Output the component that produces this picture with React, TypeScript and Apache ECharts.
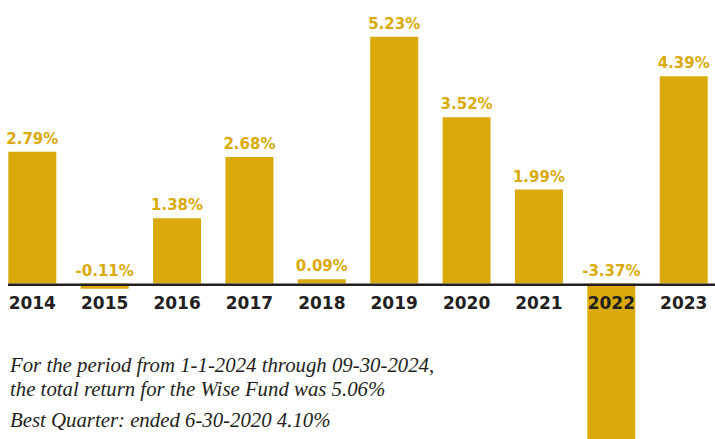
import React, { useEffect, useRef } from "react";
import * as echarts from "echarts";

const years = ["2014", "2015", "2016", "2017", "2018", "2019", "2020", "2021", "2022", "2023"];
const returns = [2.79, -0.11, 1.38, 2.68, 0.09, 5.23, 3.52, 1.99, -3.37, 4.39];
const noteLines = [
  "For the period from 1-1-2024 through 09-30-2024,",
  "the total return for the Wise Fund was 5.06%",
  "Best Quarter: ended 6-30-2020 4.10%",
];

const GOLD = "#D9AA0A";
const DARK = "#231F20";

export default function App() {
  const ref = useRef<HTMLDivElement>(null);
  useEffect(() => {
    if (!ref.current) return;
    const chart = echarts.init(ref.current, null, { renderer: "svg" });
    const serif = "italic 20.8px 'Liberation Serif', serif";
    chart.setOption({
      animation: false,
      grid: {
        left: -3.9,
        top: 0,
        width: 723.8,
        height: 439,
        containLabel: false,
        outerBoundsMode: "none",
      },
      xAxis: {
        type: "category",
        data: years,
        axisLine: { show: false },
        axisTick: { show: false },
        axisLabel: { show: false },
      },
      yAxis: {
        type: "value",
        min: -3.294,
        max: 6.006,
        show: false,
        splitLine: { show: false },
      },
      series: [
        {
          type: "bar",
          data: returns,
          barWidth: 48,
          itemStyle: { color: GOLD },
          z: 2,
        },
        {
          type: "scatter",
          data: returns.map((v) => Math.max(v, 0)),
          symbolSize: 1,
          itemStyle: { color: "rgba(0,0,0,0)", opacity: 1 },
          z: 5,
          label: {
            show: true,
            position: "top",
            distance: 5,
            color: GOLD,
            opacity: 1,
            fontFamily: "DejaVu Sans",
            fontWeight: "bold",
            fontSize: 15,
            formatter: (p: any) => returns[p.dataIndex].toFixed(2) + "%",
          },
        },
        {
          type: "scatter",
          data: years.map(() => 0),
          symbolSize: 1,
          itemStyle: { color: "rgba(0,0,0,0)", opacity: 1 },
          z: 10,
          label: {
            show: true,
            position: "bottom",
            distance: 10,
            color: DARK,
            opacity: 1,
            fontFamily: "DejaVu Sans",
            fontWeight: "bold",
            fontSize: 17,
            formatter: (p: any) => years[p.dataIndex],
          },
        },
      ],
      graphic: [
        {
          type: "line",
          z: 20,
          shape: { x1: 8, y1: 284.8, x2: 715, y2: 284.8 },
          style: { stroke: DARK, lineWidth: 2.5 },
        },
        {
          type: "text",
          z: 20,
          x: 10,
          y: 364.5,
          style: { text: noteLines[0], font: serif, fill: DARK, verticalAlign: "middle" },
        },
        {
          type: "text",
          z: 20,
          x: 10,
          y: 388.5,
          style: { text: noteLines[1], font: serif, fill: DARK, verticalAlign: "middle" },
        },
        {
          type: "text",
          z: 20,
          x: 10,
          y: 419.5,
          style: { text: noteLines[2], font: serif, fill: DARK, verticalAlign: "middle" },
        },
      ],
    });
    return () => chart.dispose();
  }, []);
  return (
    <div
      ref={ref}
      style={{ position: "fixed", left: 0, top: 0, width: 715, height: 439, background: "#fff" }}
    />
  );
}
